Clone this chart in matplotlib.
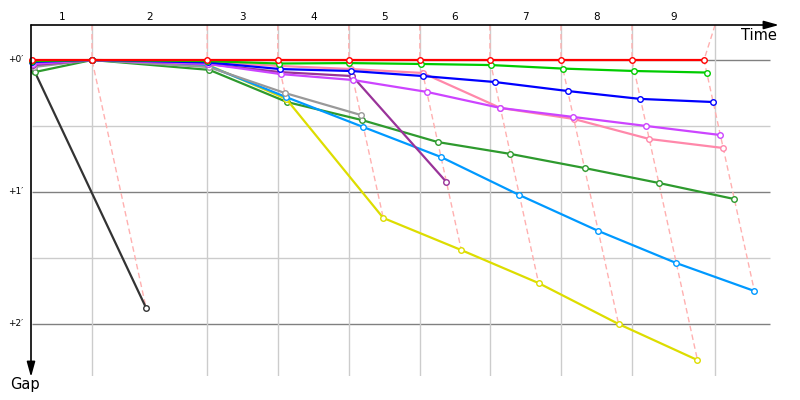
import matplotlib
import matplotlib.pyplot as plt
from matplotlib.transforms import blended_transform_factory

matplotlib.use("Agg")
plt.rcParams["font.family"] = ["DejaVu Sans"]

# leader time (s) at the end of each lap, lap 0 = start
leader_times = [0, 125, 365, 512, 660, 808, 954, 1102, 1250, 1400]
# time (s) of the lap marks drawn as vertical grid lines
lap_marks = [125, 365, 512, 660, 808, 954, 1102, 1250, 1423]
lap_numbers = [1, 2, 3, 4, 5, 6, 7, 8, 9]

# gap to the leader (s) at the end of each lap
red_gaps = [0, 0, 0, 0, 0, 0, 0, 0, 0, 0]
green_gaps = [0.5, 0, 0.5, 1.6, 1.4, 1.8, 2.3, 3.9, 5.0, 5.7]
blue_gaps = [0.9, 0, 1.1, 4.1, 5.0, 7.3, 10.0, 14.1, 17.7, 19.1]
magenta_gaps = [1.8, 0, 1.8, 6.4, 9.1, 14.5, 21.8, 25.9, 30.0, 34.1]
pink_gaps = [1.4, 0, 0.9, 2.7, 4.1, 5.9, 21.8, 26.8, 35.9, 40.0]
purple_gaps = [2.3, 0, 1.8, 5.5, 7.3, 55.5]
gray_gaps = [3.2, 0, 3.2, 15.0, 25.0]
darkgreen_gaps = [5.5, 0, 4.5, 19.1, 27.3, 37.3, 42.7, 49.1, 55.9, 63.2]
lightblue_gaps = [2.7, 0, 2.7, 16.8, 30.5, 44.1, 61.4, 77.7, 92.3, 105.0]
yellow_gaps = [1.8, 0, 2.3, 17.7, 71.8, 86.4, 101.4, 120.0, 136.4]
black_gaps = [5.0, 112.7]

main_lines = [0, 60, 120]
half_lines = [30, 90]
gap_labels = ["+0\u2032", "+1\u2032", "+2\u2032"]

drivers = [
    (black_gaps, "#333333"),
    (darkgreen_gaps, "#2e9a2e"),
    (yellow_gaps, "#dddd00"),
    (lightblue_gaps, "#0099ff"),
    (gray_gaps, "#999999"),
    (purple_gaps, "#993399"),
    (pink_gaps, "#ff88aa"),
    (magenta_gaps, "#cc44ff"),
    (blue_gaps, "#0000ff"),
    (green_gaps, "#00cc00"),
    (red_gaps, "#ff0000"),
]

X_SCALE = 0.48  # px per second along time
Y_SCALE = 2.2   # px per second along gap

fig = plt.figure(figsize=(8, 4), dpi=100)
ax = fig.add_axes([32 / 800, 24 / 400, 746 / 800, 351 / 400])
x_max = 746 / X_SCALE
y_top = (25 - 60) / Y_SCALE
y_bottom = (376 - 60) / Y_SCALE
ax.set_xlim(0, x_max)
ax.set_ylim(y_bottom, y_top)
ax.set_axis_off()

line_end = 738 / X_SCALE
ax.hlines(half_lines, 0, line_end, color="#cccccc", lw=1, zorder=1)
ax.hlines(main_lines, 0, line_end, color="#808080", lw=1, zorder=1)
ax.vlines(lap_marks, y_top, y_bottom, color="#cccccc", lw=1, zorder=1)

# dashed lines joining the same lap across drivers
for k in range(1, len(leader_times)):
    pts = sorted(
        (g[k], leader_times[k] + g[k]) for g, _ in drivers if len(g) > k
    )
    xs = [lap_marks[k - 1]] + [p[1] for p in pts]
    ys = [y_top] + [p[0] for p in pts]
    ax.plot(xs, ys, color="#ffb0b0", lw=1, dashes=(4, 2.5), zorder=2)

for i, (gaps, color) in enumerate(drivers):
    xs = [leader_times[k] + g for k, g in enumerate(gaps)]
    ax.plot(xs, gaps, color=color, lw=1.6, marker="o", markersize=4,
            markerfacecolor="white", markeredgecolor=color,
            markeredgewidth=1, zorder=3 + i, clip_on=False)

# axes with arrows
arrow = dict(arrowstyle="-|>,head_length=0.9,head_width=0.25",
             color="black", lw=1.2, mutation_scale=10,
             shrinkA=0, shrinkB=0)
ax.annotate("", xy=(779 / 800, 375 / 400), xytext=(31 / 800, 375 / 400),
            xycoords="figure fraction", arrowprops=arrow, zorder=20)
ax.annotate("", xy=(31 / 800, 23 / 400), xytext=(31 / 800, 375 / 400),
            xycoords="figure fraction", arrowprops=arrow, zorder=20)

fig.text(777 / 800, 1 - 35 / 400, "Time", ha="right", va="center",
         fontsize=10.5)
fig.text(25 / 800, 1 - 385 / 400, "Gap", ha="center", va="center",
         fontsize=10.5)

top_trans = blended_transform_factory(ax.transData, fig.transFigure)
bounds = [0] + lap_marks
for n, a, b in zip(lap_numbers, bounds[:-1], bounds[1:]):
    ax.text((a + b) / 2, 1 - 17 / 400, str(n), transform=top_trans,
            ha="center", va="center", fontsize=7.5, clip_on=False)

left_trans = blended_transform_factory(fig.transFigure, ax.transData)
for g, label in zip(main_lines, gap_labels):
    ax.text(16 / 800, g, label, transform=left_trans, ha="center",
            va="center", fontsize=6.5, clip_on=False)

fig.savefig("out.png", dpi=100)
